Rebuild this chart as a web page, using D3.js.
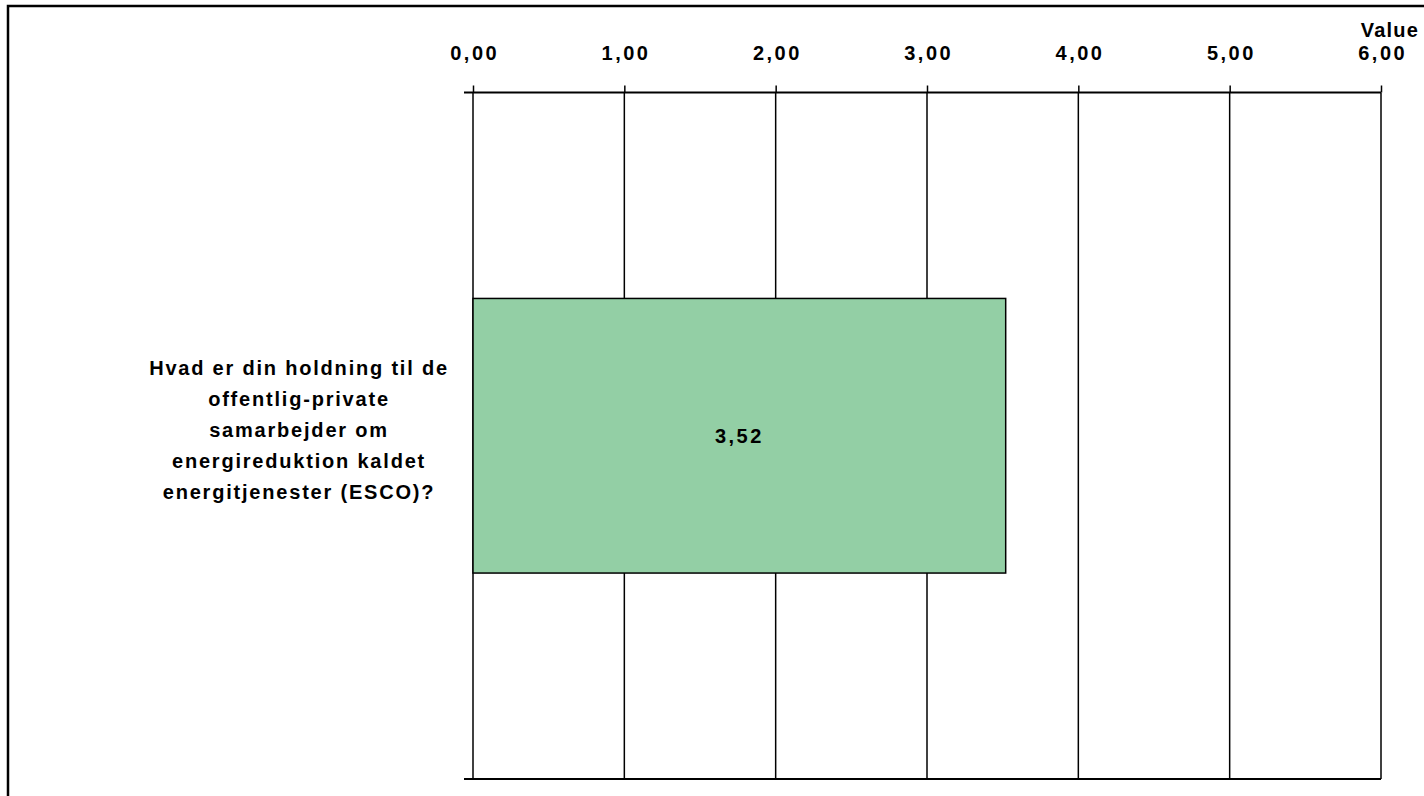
<!DOCTYPE html>
<html>
<head>
<meta charset="utf-8">
<script src="https://cdn.jsdelivr.net/npm/d3@7"></script>
<style>
  body { margin: 0; background: #fff; }
  text { font-family: "Liberation Sans", Arial, sans-serif; font-weight: bold; fill: #000; }
</style>
</head>
<body>
<script>
// data
var categories = ["Hvad er din holdning til de offentlig-private samarbejder om energireduktion kaldet energitjenester (ESCO)?"];
var labelLines = ["Hvad er din holdning til de", "offentlig-private", "samarbejder om", "energireduktion kaldet", "energitjenester (ESCO)?"];
var values = [3.52];
var xTicks = [0, 1, 2, 3, 4, 5, 6];
var axisTitle = "Value";

var W = 1424, H = 796;
var margin = {top: 92.5, right: 43, bottom: 17, left: 473};
var width = W - margin.left - margin.right,
    height = H - margin.top - margin.bottom;

var svg = d3.select("body").append("svg")
    .attr("width", W)
    .attr("height", H);

// outer frame
svg.append("rect")
    .attr("x", 8).attr("y", 6)
    .attr("width", W + 20).attr("height", H + 20)
    .attr("fill", "none")
    .attr("stroke", "#000")
    .attr("stroke-width", 2.5);

var g = svg.append("g")
    .attr("transform", "translate(" + margin.left + "," + margin.top + ")");

var x = d3.scaleLinear().domain([0, 6]).range([0, width]);
var y = d3.scaleBand().domain(categories).range([0, height])
    .paddingInner(0).paddingOuter(0.75);

var fmt = function(d){ return d3.format(".2f")(d).replace(".", ","); };

// gridlines
g.selectAll("line.grid")
    .data(xTicks)
    .enter().append("line")
    .attr("class", "grid")
    .attr("x1", function(d){ return x(d); })
    .attr("x2", function(d){ return x(d); })
    .attr("y1", 0)
    .attr("y2", height)
    .attr("stroke", "#000")
    .attr("stroke-width", 1.5);

// top axis
var xAxis = d3.axisTop(x)
    .tickValues(xTicks)
    .tickFormat(fmt)
    .tickSize(7);
var ax = g.append("g").call(xAxis);
ax.select(".domain").remove();
ax.selectAll(".tick line").attr("stroke", "#000").attr("stroke-width", 1.5);
ax.selectAll(".tick text")
    .attr("y", -33)
    .attr("dy", 0)
    .attr("dx", 1.2)
    .style("font-size", "20px")
    .style("letter-spacing", "2.5px");

// horizontal frame lines of the plot (top & bottom) with left stubs
g.selectAll("line.hline")
    .data([0, height])
    .enter().append("line")
    .attr("class", "hline")
    .attr("x1", -9).attr("x2", width)
    .attr("y1", function(d){ return d; })
    .attr("y2", function(d){ return d; })
    .attr("stroke", "#000")
    .attr("stroke-width", 2);

g.append("text")
    .attr("x", width + 38)
    .attr("y", -55.5)
    .attr("text-anchor", "end")
    .style("font-size", "20px")
    .style("letter-spacing", "1.2px")
    .text(axisTitle);

// bars
g.selectAll("rect.bar")
    .data(values)
    .enter().append("rect")
    .attr("class", "bar")
    .attr("x", x(0))
    .attr("y", function(d, i){ return y(categories[i]); })
    .attr("width", function(d){ return x(d) - x(0); })
    .attr("height", y.bandwidth())
    .attr("fill", "#93cfa5")
    .attr("stroke", "#000")
    .attr("stroke-width", 1.5);

// value labels
g.selectAll("text.val")
    .data(values)
    .enter().append("text")
    .attr("class", "val")
    .attr("x", function(d){ return x(d) / 2; })
    .attr("y", function(d, i){ return y(categories[i]) + y.bandwidth() / 2; })
    .attr("dy", "0.35em")
    .attr("dx", 0)
    .attr("text-anchor", "middle")
    .style("font-size", "20px")
    .style("letter-spacing", "2.5px")
    .text(fmt);

// category label
var lab = g.append("text")
    .attr("text-anchor", "middle")
    .style("font-size", "20px")
    .style("letter-spacing", "1.8px");
var cy = 430 - margin.top;
lab.selectAll("tspan")
    .data(labelLines)
    .enter().append("tspan")
    .attr("x", 299 - margin.left)
    .attr("y", function(d, i){ return cy + (i - 2) * 31; })
    .attr("dy", "0.35em")
    .text(function(d){ return d; });
</script>
</body>
</html>
